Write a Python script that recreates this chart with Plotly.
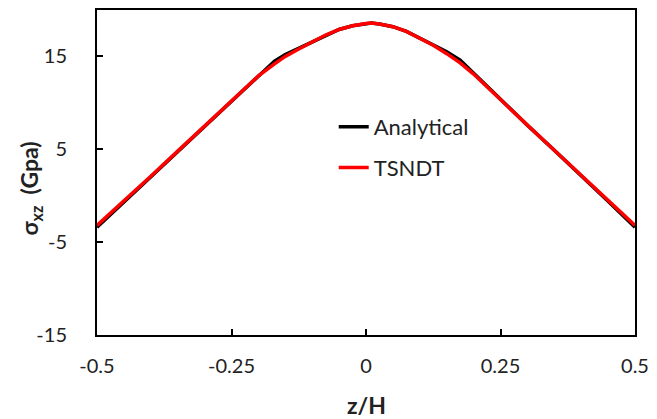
import plotly.graph_objects as go

z_h = [-0.5, -0.45, -0.4, -0.35, -0.3, -0.25, -0.2, -0.17, -0.15, -0.125, -0.1, -0.075, -0.05, -0.025,
       0.0, 0.01, 0.025, 0.05, 0.075, 0.1, 0.125, 0.15, 0.175, 0.2, 0.25, 0.3, 0.35, 0.4, 0.45, 0.5]
analytical = [-3.4, -0.7, 2.0, 4.7, 7.4, 10.1, 12.9, 14.5, 15.2, 15.9, 16.6, 17.3, 17.9, 18.3,
              18.55, 18.6, 18.5, 18.2, 17.7, 17.0, 16.3, 15.5, 14.6, 13.2, 10.3, 7.6, 4.9, 2.2, -0.6, -3.4]
tsndt = [-3.2, -0.6, 2.1, 4.8, 7.5, 10.2, 12.9, 14.2, 15.0, 15.8, 16.6, 17.3, 17.9, 18.3,
         18.55, 18.6, 18.5, 18.2, 17.7, 17.0, 16.2, 15.3, 14.3, 13.1, 10.3, 7.6, 4.9, 2.2, -0.5, -3.2]

x_ticks = [-0.5, -0.25, 0, 0.25, 0.5]
x_tick_labels = ["-0.5", "-0.25", "0", "0.25", "0.5"]
y_ticks = [-15, -5, 5, 15]
y_tick_labels = ["-15", "-5", "5", "15"]

FONT = "Lato"

fig = go.Figure()
fig.add_trace(go.Scatter(x=z_h, y=analytical, mode="lines", name="Analytical",
                         line=dict(color="black", width=3.5), legend="legend"))
fig.add_trace(go.Scatter(x=z_h, y=tsndt, mode="lines", name="TSNDT",
                         line=dict(color="#ff0000", width=3.5), legend="legend2"))

axis_common = dict(showline=True, linecolor="black", linewidth=2, mirror=True,
                   ticks="inside", ticklen=6, tickwidth=2, tickcolor="black",
                   showgrid=False, zeroline=False,
                   tickfont=dict(family=FONT, size=20, color="#222"))

fig.update_xaxes(range=[-0.5, 0.5], tickvals=x_ticks, ticktext=x_tick_labels,
                 ticklabelstandoff=12, **axis_common)
fig.update_yaxes(range=[-15, 20], tickvals=y_ticks, ticktext=y_tick_labels,
                 ticklabelstandoff=24, **axis_common)

fig.update_layout(
    width=657, height=419,
    margin=dict(l=97, r=16, t=8, b=84),
    paper_bgcolor="white", plot_bgcolor="white",
    showlegend=True,
    legend=dict(x=0.44, y=0.64, xanchor="left", yanchor="middle", bgcolor="rgba(0,0,0,0)",
                font=dict(family=FONT, size=22, color="#222")),
    legend2=dict(x=0.44, y=0.515, xanchor="left", yanchor="middle", bgcolor="rgba(0,0,0,0)",
                 font=dict(family=FONT, size=22, color="#222")),
    annotations=[
        dict(text="<b>z/H</b>", x=0.5, y=-0.215, xref="paper", yref="paper",
             xanchor="center", yanchor="middle", showarrow=False,
             font=dict(family=FONT, size=23, color="#222")),
        dict(text="<b>σ<sub>xz</sub>  (Gpa)</b>", x=-0.123, y=0.45, xref="paper", yref="paper",
             xanchor="center", yanchor="middle", showarrow=False, textangle=-90,
             font=dict(family=FONT, size=23, color="#222")),
    ],
)

fig.write_html("out.html")
